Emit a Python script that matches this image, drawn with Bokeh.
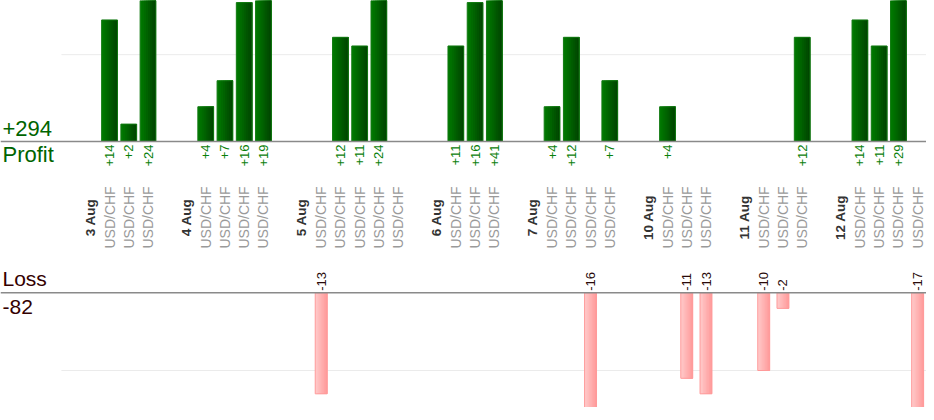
import math
from bokeh.plotting import figure
from bokeh.models import Range1d, ColumnDataSource, Span, Label
from bokeh.transform import dodge
from bokeh.core.properties import value
from bokeh.embed import file_html
from bokeh.resources import INLINE

# ---------------- data ----------------
day_labels = ["3 Aug", "4 Aug", "5 Aug", "6 Aug", "7 Aug", "10 Aug", "11 Aug", "12 Aug"]
day_trade_counts = [3, 4, 5, 3, 4, 3, 3, 4]
trade_pairs = [
    "USD/CHF", "USD/CHF", "USD/CHF",
    "USD/CHF", "USD/CHF", "USD/CHF", "USD/CHF",
    "USD/CHF", "USD/CHF", "USD/CHF", "USD/CHF", "USD/CHF",
    "USD/CHF", "USD/CHF", "USD/CHF",
    "USD/CHF", "USD/CHF", "USD/CHF", "USD/CHF",
    "USD/CHF", "USD/CHF", "USD/CHF",
    "USD/CHF", "USD/CHF", "USD/CHF",
    "USD/CHF", "USD/CHF", "USD/CHF", "USD/CHF",
]
trade_results = [
    14, 2, 24,
    4, 7, 16, 19,
    -13, 12, 11, 24, 0,
    11, 16, 41,
    4, 12, -16, 7,
    4, -11, -13,
    -10, -2, 12,
    14, 11, 29, -17,
]
profit_grid_ticks = [10]
loss_grid_ticks = [-10]

# ---------------- slot layout ----------------
date_x, pair_x = [], []
profit_x, profit_v, profit_lbl = [], [], []
loss_x, loss_v, loss_lbl = [], [], []
slot = -1
t = 0
for d, n in zip(day_labels, day_trade_counts):
    slot += 1  # empty spacer slot
    slot += 1  # date slot
    date_x.append(slot)
    for _ in range(n):
        slot += 1
        pair_x.append(slot)
        r = trade_results[t]
        if r > 0:
            profit_x.append(slot); profit_v.append(r); profit_lbl.append("+%d" % r)
        elif r < 0:
            loss_x.append(slot); loss_v.append(r); loss_lbl.append("%d" % r)
        t += 1
n_slots = slot + 1
total_profit = sum(v for v in trade_results if v > 0)
total_loss = sum(v for v in trade_results if v < 0)

FONT = "Liberation Sans"

p = figure(width=926, height=407,
           x_range=Range1d(-3.667, 44.46), y_range=Range1d(-30.65, 16.24),
           x_axis_type=None, y_axis_type=None,
           output_backend="svg", toolbar_location=None,
           min_border=0, outline_line_color=None)
p.extra_y_ranges = {"loss": Range1d(-14.76, 37.62)}

# grid lines (start at left edge of the first slot)
for g in profit_grid_ticks:
    p.segment(x0=-0.5, x1=n_slots + 2, y0=g, y1=g, line_color="#ebebeb", line_width=1)
for g in loss_grid_ticks:
    p.segment(x0=-0.5, x1=n_slots + 2, y0=g, y1=g, line_color="#ebebeb", line_width=1,
              y_range_name="loss")

psrc = ColumnDataSource(dict(x=profit_x, v=profit_v, lbl=profit_lbl))
lsrc = ColumnDataSource(dict(x=loss_x, v=loss_v, lbl=loss_lbl))


def hexmix(c1, c2, f):
    a = [int(c1[i:i + 2], 16) for i in (1, 3, 5)]
    b = [int(c2[i:i + 2], 16) for i in (1, 3, 5)]
    return "#%02x%02x%02x" % tuple(round(a[k] + (b[k] - a[k]) * f) for k in range(3))


K = 8
# profit bars: horizontal gradient made of right-aligned, progressively narrower layers
pw = 0.82
for k in range(K):
    w = pw * (K - k) / K
    off = pw / 2 - w / 2
    p.vbar(x=dodge("x", off, range=p.x_range), top="v", bottom=0, width=w,
           fill_color=hexmix("#007800", "#004600", k / (K - 1)), line_color=None, source=psrc)
p.vbar(x="x", top="v", bottom=0, width=pw, fill_color=None, line_color="#127a12",
       line_width=1, source=psrc)

# loss bars: same gradient technique
lw = 0.62
for k in range(K):
    w = lw * (K - k) / K
    off = lw / 2 - w / 2
    p.vbar(x=dodge("x", off, range=p.x_range), top=0, bottom="v", width=w,
           fill_color=hexmix("#ffc8c8", "#ff9c9c", k / (K - 1)), line_color=None,
           source=lsrc, y_range_name="loss")
p.vbar(x="x", top=0, bottom="v", width=lw, fill_color=None, line_color="#ff9a9a",
       line_width=1, source=lsrc, y_range_name="loss")

# baselines
p.add_layout(Span(location=0, dimension="width", line_color="#8a8a8a", line_width=1.5))
p.add_layout(Span(location=0, dimension="width", line_color="#8a8a8a", line_width=1.5,
                  y_range_name="loss"))

# value labels
p.text(x="x", y=0, text="lbl", source=psrc, angle=math.pi / 2, y_offset=3,
       text_align="right", text_baseline="middle", text_color="#0a800a",
       text_font=value(FONT), text_font_size="13px")
p.text(x="x", y=0, text="lbl", source=lsrc, angle=math.pi / 2, y_offset=-2,
       text_align="left", text_baseline="middle", text_color="#2a0a0a",
       text_font=value(FONT), text_font_size="13px", y_range_name="loss")

# category labels
csrc = ColumnDataSource(dict(x=pair_x, t=trade_pairs))
dsrc = ColumnDataSource(dict(x=date_x, t=day_labels))
p.text(x="x", y=0, text="t", source=csrc, angle=math.pi / 2, y_offset=76,
       text_align="center", text_baseline="middle", text_color="#9a9a9a",
       text_font=value(FONT), text_font_size="14px")
p.text(x="x", y=0, text="t", source=dsrc, angle=math.pi / 2, y_offset=76,
       text_align="center", text_baseline="middle", text_color="#333333",
       text_font=value(FONT), text_font_size="13.5px", text_font_style="bold")

# totals / titles
p.add_layout(Label(x=2, x_units="screen", y=0, y_offset=13, text="+%d" % total_profit,
                   text_color="#006400", text_font=FONT, text_font_size="22px",
                   text_baseline="alphabetic", text_align="left"))
p.add_layout(Label(x=2, x_units="screen", y=0, y_offset=-13, text="Profit",
                   text_color="#006400", text_font=FONT, text_font_size="22px",
                   text_baseline="alphabetic", text_align="left"))
p.add_layout(Label(x=2, x_units="screen", y=0, y_offset=14, text="Loss",
                   text_color="#330000", text_font=FONT, text_font_size="21px",
                   text_baseline="alphabetic", text_align="left", y_range_name="loss"))
p.add_layout(Label(x=2, x_units="screen", y=0, y_offset=-14, text="%d" % total_loss,
                   text_color="#330000", text_font=FONT, text_font_size="21px",
                   text_baseline="alphabetic", text_align="left", y_range_name="loss"))

open("out.html", "w").write(file_html(p, INLINE))
